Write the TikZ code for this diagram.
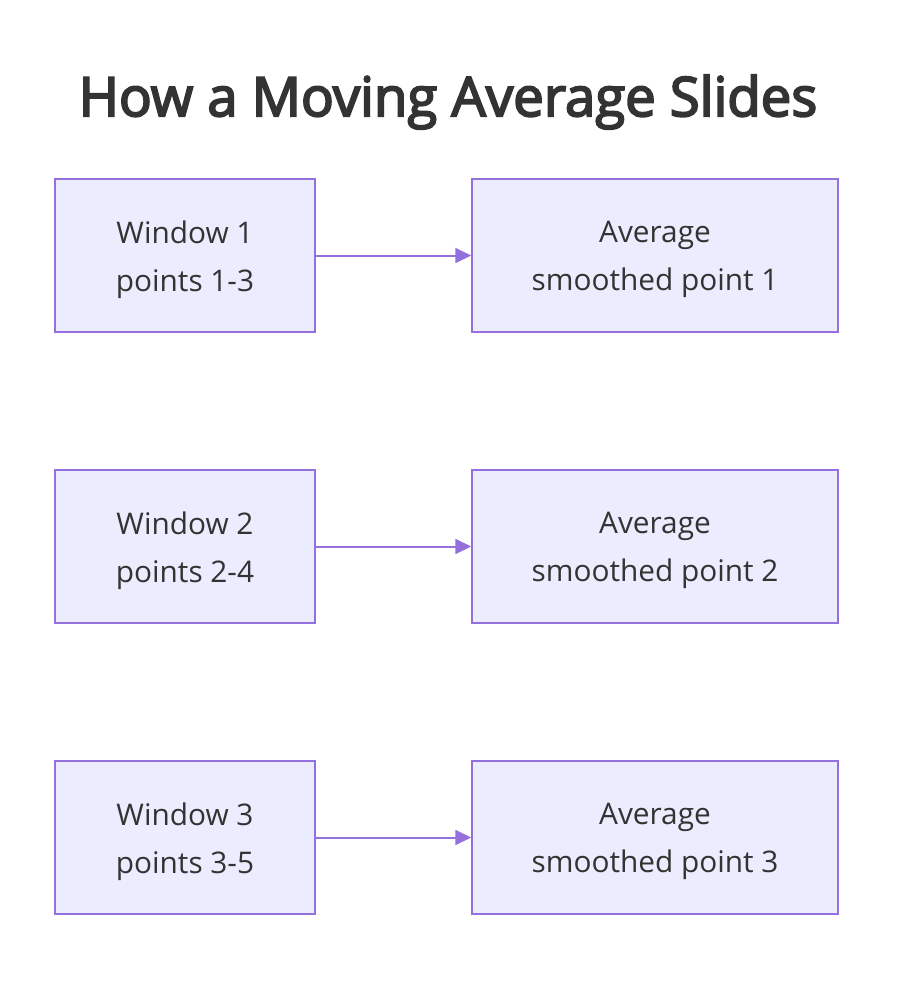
\documentclass[tikz,border=0pt]{standalone}
\usepackage{fontspec}
\setmainfont{Open Sans}
\newfontfamily\titlefont[FakeBold=3.5]{Open Sans}
\usetikzlibrary{arrows.meta}
\definecolor{boxfill}{HTML}{ECECFF}
\definecolor{boxline}{HTML}{9370DB}
\definecolor{txt}{HTML}{333333}
\tikzset{
  box/.style={draw=boxline, fill=boxfill, line width=1.5pt, minimum height=153pt, inner sep=0pt},
  lbox/.style={box, minimum width=260pt},
  rbox/.style={box, minimum width=366pt},
  boxtext/.style={text=txt, align=center, font=\fontsize{29.8}{48}\selectfont, inner sep=0pt},
  conn/.style={draw=boxline, line width=2pt, -{Triangle[length=16pt,width=15pt]}}
}
\begin{document}
\begin{tikzpicture}[x=1pt,y=-1pt]
\path[use as bounding box] (0,0) rectangle (910,986);
\node[text=txt, font=\fontsize{54.5}{60}\titlefont] (title) at (448,102) {How a Moving Average Slides};
\node[lbox] (w1) at (185,255.5) {};
\node[rbox] (a1) at (655,255.5) {};
\node[lbox] (w2) at (185,546.5) {};
\node[rbox] (a2) at (655,546.5) {};
\node[lbox] (w3) at (185,837.5) {};
\node[rbox] (a3) at (655,837.5) {};
\node[boxtext] (w1t) at ([yshift=-4pt]w1.center) {Window 1\\points 1-3};
\node[boxtext] (a1t) at ([yshift=-4pt]a1.center) {Average\\smoothed point 1};
\node[boxtext] (w2t) at ([yshift=-4pt]w2.center) {Window 2\\points 2-4};
\node[boxtext] (a2t) at ([yshift=-4pt]a2.center) {Average\\smoothed point 2};
\node[boxtext] (w3t) at ([yshift=-4pt]w3.center) {Window 3\\points 3-5};
\node[boxtext] (a3t) at ([yshift=-4pt]a3.center) {Average\\smoothed point 3};
\draw[conn] (w1) -- (a1);
\draw[conn] (w2) -- (a2);
\draw[conn] (w3) -- (a3);
\end{tikzpicture}
\end{document}
